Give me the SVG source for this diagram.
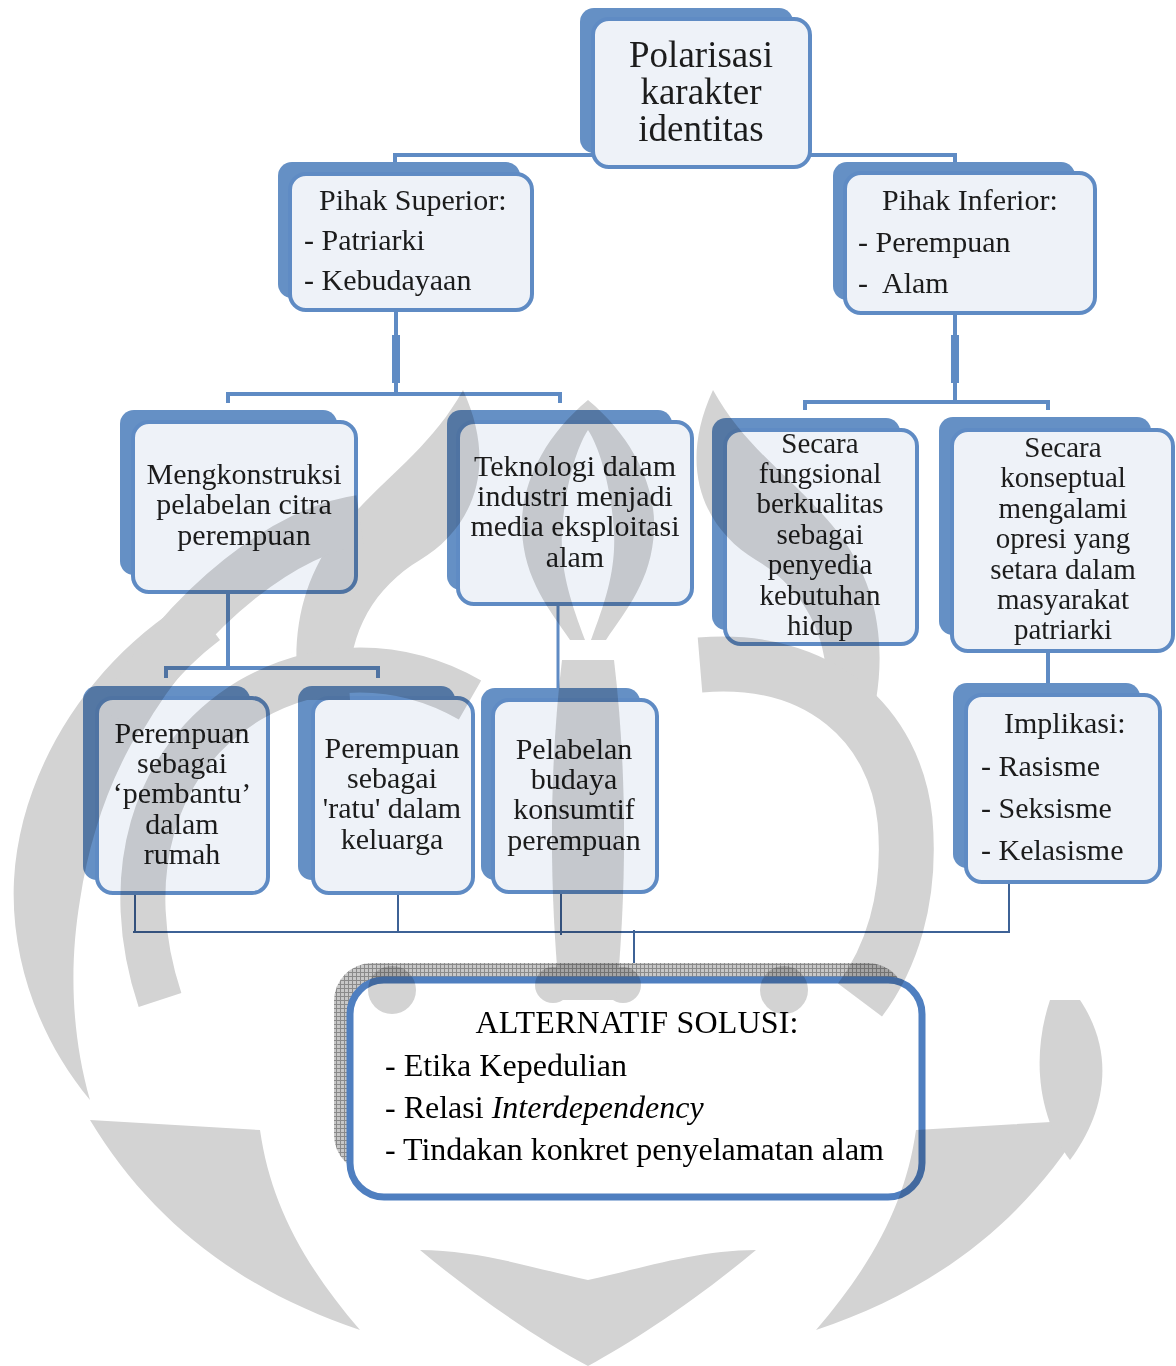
<svg xmlns="http://www.w3.org/2000/svg" xmlns:xlink="http://www.w3.org/1999/xlink" width="1176" height="1366" viewBox="0 0 1176 1366">
<style>
.bk{fill:#6590C5}
.fr{fill:#EEF2F8;stroke:#5F8BC4;stroke-width:4}
.t{font-family:"Liberation Serif","Times New Roman",serif;font-size:30px;fill:#1c1c1c}
.s{font-size:29px}
.m{text-anchor:middle}
.c{stroke:#5F8BC4;stroke-width:4;fill:none}
.ct{stroke:#5F8BC4;stroke-width:8;fill:none}
.cn{stroke:#3E6296;stroke-width:2;fill:none}
</style>
<defs>
<pattern id="grid" width="4" height="4" patternUnits="userSpaceOnUse">
<rect width="4" height="4" fill="#C8C8C8"/>
<path d="M0 0.5H4M0.5 0V4" stroke="#8A8A8A" stroke-width="1"/>
</pattern>
<g id="wmHalf">
<path d="M463 390 C430 450 380 480 340 530 C300 580 290 640 300 700 L350 700 C345 640 370 590 420 560 C470 530 500 470 463 390 Z"/>
<path d="M588 400 C540 440 520 490 522 530 C524 580 550 610 570 640 L585 640 C570 600 560 570 562 530 C565 490 575 450 588 430 Z"/>
<path d="M90 1120 C150 1220 240 1290 360 1330 C300 1260 270 1200 260 1130 Z"/>
<circle cx="392" cy="990" r="24"/>
<circle cx="553" cy="985" r="18"/>
<path d="M420 1250 C480 1300 540 1340 588 1366 L588 1280 C540 1270 480 1250 420 1250 Z"/>
</g>
</defs>
<rect width="1176" height="1366" fill="#FFFFFF"/>

<g id="connectors">
<path class="c" d="M395 163V155H955V163"/>
<path class="c" d="M396 310V394M228 403V394H560V403"/>
<path class="ct" d="M396 335V383"/>
<path class="c" d="M955 315V402M805 410V402H1048V410"/>
<path class="ct" d="M955 335V383"/>
<path class="c" d="M228 592V668M166 678V668H378V678"/>
<path class="c" d="M558 605V690" style="stroke-width:3"/>
<path class="c" d="M1048 652V685"/>
<path class="cn" d="M135 887V932M398 890V932M561 890V935M1009 882V932M133 932H1010M634 930V980"/>
</g>

<g id="n1">
<rect class="bk" x="580" y="8" width="213" height="145" rx="14"/>
<rect class="fr" x="593" y="19" width="217" height="148" rx="16"/>
<text class="t m" style="font-size:37px"><tspan x="701" y="67">Polarisasi</tspan><tspan x="701" y="104">karakter</tspan><tspan x="701" y="141">identitas</tspan></text>
</g>

<g id="n2">
<rect class="bk" x="278" y="162" width="242" height="136" rx="14"/>
<rect class="fr" x="290" y="174" width="242" height="136" rx="16"/>
<text class="t"><tspan x="319" y="210">Pihak Superior:</tspan><tspan x="304" y="250">- Patriarki</tspan><tspan x="304" y="290">- Kebudayaan</tspan></text>
</g>

<g id="n3">
<rect class="bk" x="833" y="162" width="242" height="138" rx="14"/>
<rect class="fr" x="845" y="173" width="250" height="140" rx="16"/>
<text class="t"><tspan x="882" y="210">Pihak Inferior:</tspan><tspan x="858" y="252">- Perempuan</tspan><tspan x="858" y="293">-</tspan><tspan x="882" y="293">Alam</tspan></text>
</g>

<g id="n4">
<rect class="bk" x="120" y="410" width="217" height="165" rx="14"/>
<rect class="fr" x="133" y="422" width="223" height="170" rx="16"/>
<text class="t m"><tspan x="244" y="484">Mengkonstruksi</tspan><tspan x="244" y="514">pelabelan citra</tspan><tspan x="244" y="545">perempuan</tspan></text>
</g>

<g id="n5">
<rect class="bk" x="447" y="410" width="225" height="180" rx="14"/>
<rect class="fr" x="458" y="422" width="234" height="182" rx="16"/>
<text class="t m"><tspan x="575" y="476">Teknologi dalam</tspan><tspan x="575" y="506">industri menjadi</tspan><tspan x="575" y="536">media eksploitasi</tspan><tspan x="575" y="567">alam</tspan></text>
</g>

<g id="n6">
<rect class="bk" x="712" y="418" width="188" height="212" rx="14"/>
<rect class="fr" x="725" y="430" width="192" height="214" rx="16"/>
<text class="t s m"><tspan x="820" y="453">Secara</tspan><tspan x="820" y="483">fungsional</tspan><tspan x="820" y="513">berkualitas</tspan><tspan x="820" y="544">sebagai</tspan><tspan x="820" y="574">penyedia</tspan><tspan x="820" y="605">kebutuhan</tspan><tspan x="820" y="635">hidup</tspan></text>
</g>

<g id="n7">
<rect class="bk" x="939" y="417" width="212" height="218" rx="14"/>
<rect class="fr" x="952" y="430" width="221" height="221" rx="16"/>
<text class="t s m"><tspan x="1063" y="457">Secara</tspan><tspan x="1063" y="487">konseptual</tspan><tspan x="1063" y="518">mengalami</tspan><tspan x="1063" y="548">opresi yang</tspan><tspan x="1063" y="579">setara dalam</tspan><tspan x="1063" y="609">masyarakat</tspan><tspan x="1063" y="639">patriarki</tspan></text>
</g>

<g id="n8">
<rect class="bk" x="953" y="683" width="187" height="185" rx="14"/>
<rect class="fr" x="966" y="695" width="194" height="187" rx="16"/>
<text class="t"><tspan x="1004" y="733">Implikasi:</tspan><tspan x="981" y="776">- Rasisme</tspan><tspan x="981" y="818">- Seksisme</tspan><tspan x="981" y="860">- Kelasisme</tspan></text>
</g>

<g id="n9">
<rect class="bk" x="83" y="686" width="167" height="194" rx="14"/>
<rect class="fr" x="97" y="698" width="171" height="195" rx="16"/>
<text class="t m"><tspan x="182" y="743">Perempuan</tspan><tspan x="182" y="773">sebagai</tspan><tspan x="182" y="803">‘pembantu’</tspan><tspan x="182" y="834">dalam</tspan><tspan x="182" y="864">rumah</tspan></text>
</g>

<g id="n10">
<rect class="bk" x="298" y="686" width="157" height="194" rx="14"/>
<rect class="fr" x="313" y="698" width="160" height="195" rx="16"/>
<text class="t m"><tspan x="392" y="758">Perempuan</tspan><tspan x="392" y="788">sebagai</tspan><tspan x="392" y="818">'ratu' dalam</tspan><tspan x="392" y="849">keluarga</tspan></text>
</g>

<g id="n11">
<rect class="bk" x="481" y="688" width="159" height="192" rx="14"/>
<rect class="fr" x="493" y="700" width="164" height="192" rx="16"/>
<text class="t m"><tspan x="574" y="759">Pelabelan</tspan><tspan x="574" y="789">budaya</tspan><tspan x="574" y="819">konsumtif</tspan><tspan x="574" y="850">perempuan</tspan></text>
</g>

<g id="n12">
<rect x="334" y="963" width="572" height="210" rx="38" fill="url(#grid)"/>
<rect x="350" y="980" width="572" height="217" rx="34" fill="#FFFFFF" stroke="#4F7FC0" stroke-width="7"/>
<text class="t" style="font-size:32px;fill:#000"><tspan x="637" y="1033" text-anchor="middle" textLength="323">ALTERNATIF SOLUSI:</tspan><tspan x="385" y="1076" textLength="242">- Etika Kepedulian</tspan><tspan x="385" y="1118">- Relasi <tspan font-style="italic">Interdependency</tspan></tspan><tspan x="385" y="1160" textLength="499">- Tindakan konkret penyelamatan alam</tspan></text>
</g>

<g id="watermark" style="mix-blend-mode:multiply" fill="#D3D3D3">
<use xlink:href="#wmHalf"/>
<use xlink:href="#wmHalf" transform="translate(1176 0) scale(-1 1)"/>
<path d="M190 600 C90 660 20 770 14 880 C10 960 40 1040 90 1100 C70 1030 70 960 80 900 C95 800 140 700 220 640 Z"/>
<path d="M120 720 C190 600 290 530 360 520" fill="none" stroke="#D3D3D3" stroke-width="50"/>
<path d="M160 1000 C120 880 150 760 250 700 C320 660 400 660 470 700" fill="none" stroke="#D3D3D3" stroke-width="45"/>
<path d="M700 665 C820 655 895 725 905 820 C912 900 890 960 860 1000" fill="none" stroke="#D3D3D3" stroke-width="55"/>
<path d="M562 660 C550 760 548 880 560 1000 L616 1000 C628 880 626 760 614 660 Z"/>
<path d="M1080 1000 C1120 1060 1100 1120 1070 1160 C1040 1120 1030 1060 1050 1000 Z"/>
</g>
</svg>
